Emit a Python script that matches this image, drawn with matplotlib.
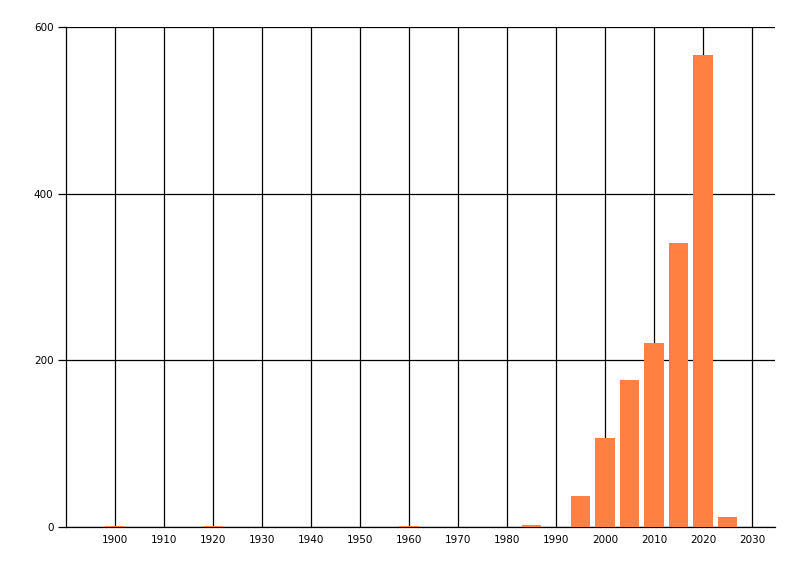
import matplotlib
matplotlib.use('Agg')
import matplotlib.pyplot as plt

# bins of 5 years, value = count
years = [1900, 1920, 1960, 1985, 1995, 2000, 2005, 2010, 2015, 2020, 2025]
counts = [1, 1, 1, 3, 37, 107, 176, 221, 341, 566, 12]

x_ticks = list(range(1900, 2031, 10))
y_ticks = [0, 200, 400, 600]

fig = plt.figure(figsize=(8, 5.76), dpi=100)
ax = fig.add_axes([66 / 800, 1 - 527 / 576, (775 - 66) / 800, 500 / 576])

ax.bar(years, counts, width=3.9, color='#FF8040', zorder=3)

ax.set_xlim(1890, 2034.7)
ax.set_ylim(0, 600)
ax.set_xticks(x_ticks)
ax.set_yticks(y_ticks)
ax.tick_params(axis='x', length=0, pad=6, labelsize=7.5, colors='black')
ax.tick_params(axis='y', length=6, width=0.9, pad=3, labelsize=7.5, colors='black')

ax.grid(True, color='black', linewidth=0.9, zorder=0)
ax.set_axisbelow(True)
for side in ['top', 'right']:
    ax.spines[side].set_visible(False)
for side in ['left', 'bottom']:
    ax.spines[side].set_linewidth(0.9)
    ax.spines[side].set_color('black')

fig.savefig('out.png', dpi=100)
